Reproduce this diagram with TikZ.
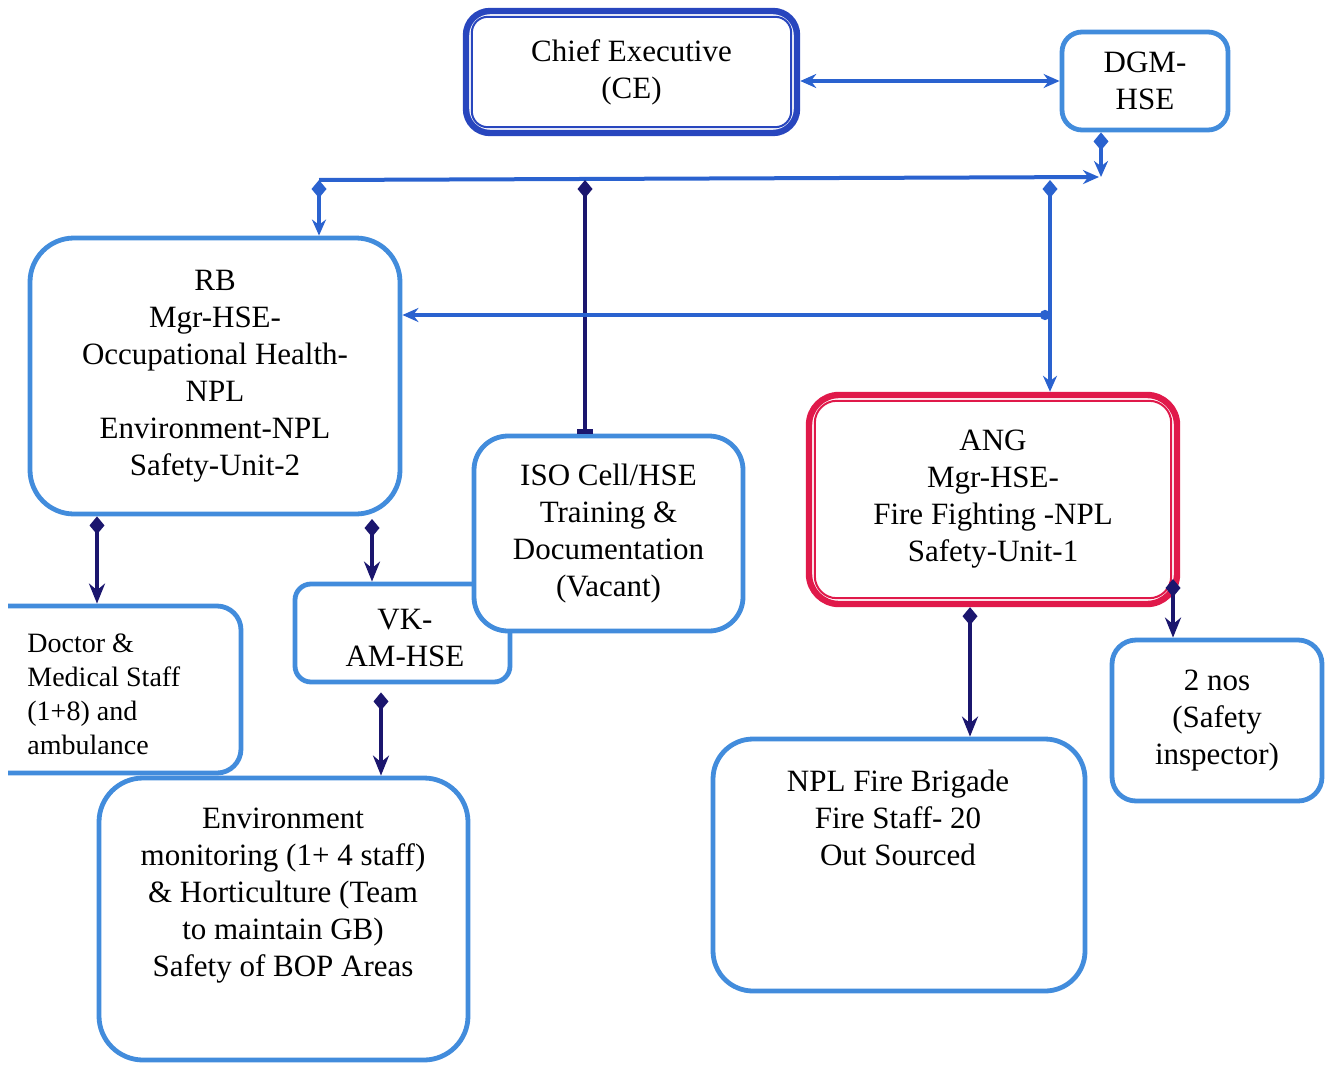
\documentclass[tikz,border=0pt]{standalone}
\usepackage{fontspec}
\setmainfont{Liberation Serif}
\usetikzlibrary{arrows.meta}
\definecolor{boxblue}{HTML}{428CDC}
\definecolor{ceblue}{HTML}{2846BE}
\definecolor{lineblue}{HTML}{2A62CF}
\definecolor{navyc}{HTML}{1B166E}
\definecolor{redc}{HTML}{E0194A}
\begin{document}
\begin{tikzpicture}[x=0.5pt,y=-0.5pt,
  box/.style={draw=boxblue, line width=2.4pt, fill=white, rounded corners=#1, inner sep=0pt, align=center,
              font=\fontsize{15.5}{18.5}\selectfont},
  box/.default=10pt,
  txt/.style={inner sep=0pt, align=center, font=\fontsize{15.5}{18.5}\selectfont},
  lb/.style={draw=lineblue, line width=2pt},
  nv/.style={draw=navyc, line width=2.4pt},
  tipb/.tip={Stealth[length=8pt,width=7pt]},
  tipn/.tip={Stealth[length=10pt,width=8pt]},
  dia/.tip={Diamond[length=9pt,width=7.5pt]}
]
\useasboundingbox (0,0) rectangle (1325,1065);
\clip (0,0) rectangle (1325,1065);

% ---- boxes ----
\node[box=12pt, draw=ceblue, line width=3.2pt, minimum width=165.5pt, minimum height=61pt] (ce) at (631.5,72)
  {Chief Executive\\(CE)};
\draw[ceblue, line width=1pt, rounded corners=8pt]
  ([shift={(9,9)}]ce.north west) rectangle ([shift={(-9,-9)}]ce.south east);

\node[box=10pt, minimum width=83pt, minimum height=49pt] (dgm) at (1145,81) {DGM-\\HSE};

\node[box=22pt, minimum width=185pt, minimum height=138pt] (rb) at (215,376)
  {RB\\Mgr-HSE-\\Occupational Health-\\NPL\\Environment-NPL\\Safety-Unit-2};

\node[box=8pt, minimum width=107.5pt, minimum height=49pt] (vk) at (402.5,633) {};
\node[txt] (vkT) at (405,638) {VK-\\AM-HSE};

\node[box=17pt, minimum width=134.5pt, minimum height=97.5pt] (iso) at (608.5,533.5)
  {ISO Cell/HSE\\Training \&\\Documentation\\(Vacant)};

\begin{scope}
\clip (8,0) rectangle (1325,1065);
\node[box=12pt, minimum width=135.5pt, minimum height=83.5pt] (doc) at (105.5,689.5) {};
\end{scope}
\node[txt, anchor=west, align=left, font=\fontsize{14}{17}\selectfont] (docT) at (27,694)
  {Doctor \&\\Medical Staff\\(1+8) and\\ambulance};

\node[box=22pt, minimum width=184.5pt, minimum height=141pt] (env) at (283.5,919) {};
\node[txt] (envT) at (283,896)
  {Environment\\monitoring (1+ 4 staff)\\\& Horticulture (Team\\to maintain GB)\\Safety of BOP Areas};

\node[box=15pt, draw=redc, line width=3.2pt, minimum width=184pt, minimum height=104.5pt] (ang) at (993,499.5)
  {ANG\\Mgr-HSE-\\Fire Fighting -NPL\\Safety-Unit-1};
\draw[redc, line width=1pt, rounded corners=11pt]
  ([shift={(9,9)}]ang.north west) rectangle ([shift={(-9,-9)}]ang.south east);

\node[box=20pt, minimum width=186pt, minimum height=126pt] (npl) at (899,865) {};
\node[txt] (nplT) at (898,818) {NPL Fire Brigade\\Fire Staff- 20\\Out Sourced};

\node[box=12pt, minimum width=105pt, minimum height=80.5pt] (nos) at (1217,720.5)
  {2 nos\\(Safety\\inspector)};

% ---- junction coordinates ----
\coordinate (dj) at (1101,177);
\coordinate (bl) at (319,180);
\coordinate (bi) at (585,180);
\coordinate (br) at (1050,180);
\coordinate (bm) at (1050,315);
\coordinate (xd) at (97,0);
\coordinate (rv) at (372,519);
\coordinate (xe) at (381,0);
\coordinate (xn) at (970,0);
\coordinate (an) at (1173,579);

% ---- connectors ----
\draw[lb, tipb-tipb] (ce.east |- dgm.west) -- (dgm.west);
\draw[lb, dia-tipb] (dgm.south -| dj) -- (dj);
\draw[lb, -tipb] (bl) -- ([xshift=-1pt]dj);
\draw[lb, dia-tipb] (bl) -- (bl |- rb.north);
\draw[nv, dia-{Bar[width=8pt]}] (bi) -- (bi |- iso.north);
\draw[lb, dia-tipb] (br) -- (br |- ang.north);
\draw[lb, {Circle[length=5pt]}-tipb] (bm) -- (bm -| rb.east);
\draw[nv, dia-tipn] (rb.south -| xd) -- (doc.north -| xd);
\draw[nv, dia-tipn] (rv) -- (rv |- vk.north);
\draw[nv, dia-tipn] ([yshift=-4pt]vk.south -| xe) -- (env.north -| xe);
\draw[nv, dia-tipn] (ang.south -| xn) -- (npl.north -| xn);
\draw[nv, dia-tipn] (an) -- (an |- nos.north);
\end{tikzpicture}
\end{document}
